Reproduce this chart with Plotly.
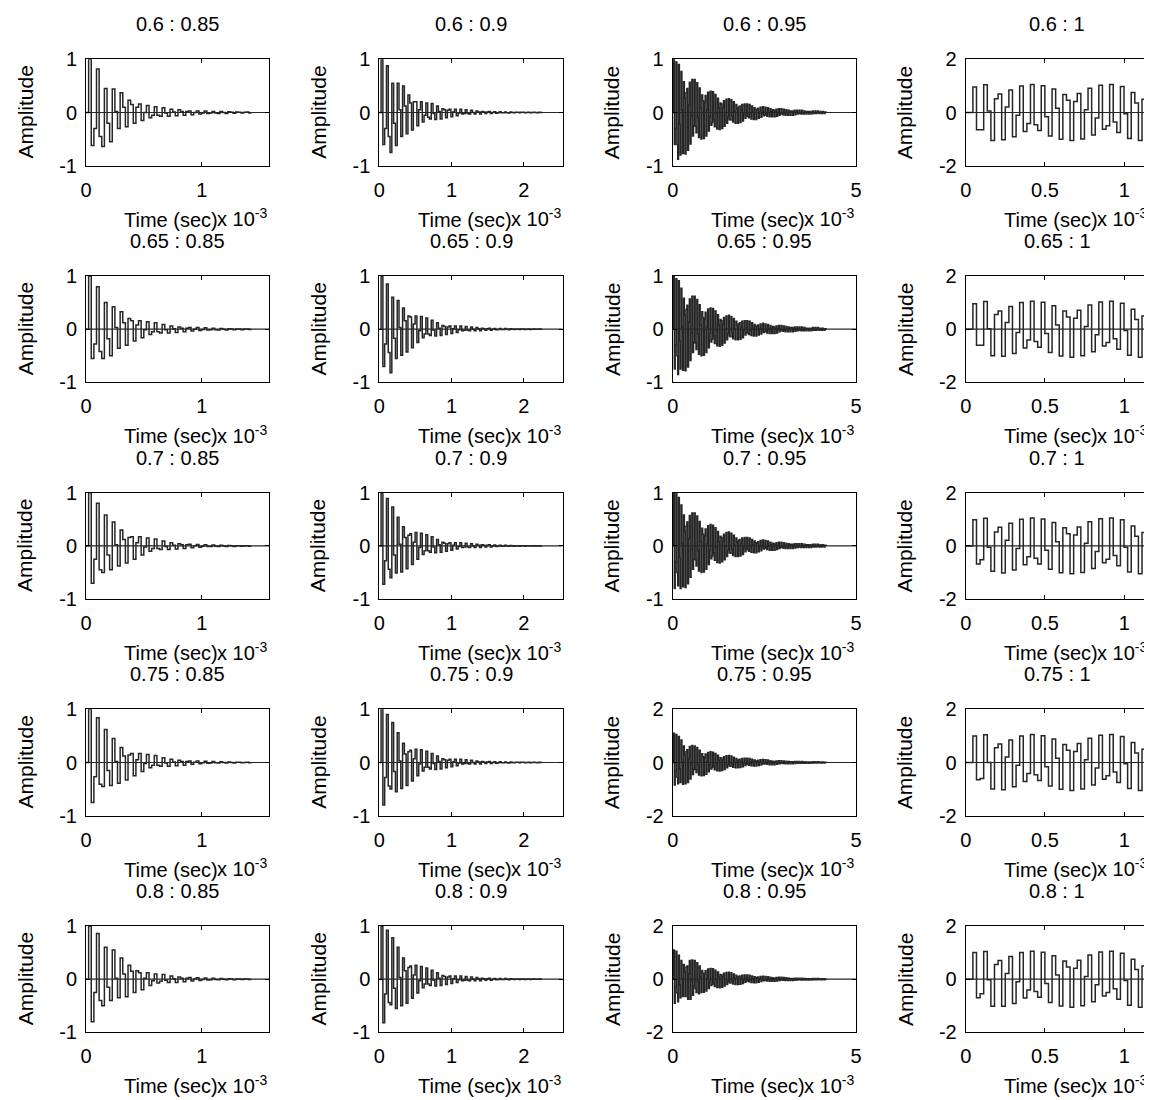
import plotly.graph_objects as go

W, H = 1152, 1100
PAGE_OFFSET = 8.0  # the page body margin shifts the figure by this many pixels

ROW_LABELS = ["0.6", "0.65", "0.7", "0.75", "0.8"]
COL_LABELS = ["0.85", "0.9", "0.95", "1"]

# sample period per column (ms) and x-axis limits (ms, shown as x 10^-3 s)
TS_MS = [0.0227, 0.0248, 0.0227, 0.0227]
XMAX_MS = [1.585, 2.54, 5.0, 1.157]
X_TICKVALS = [[0, 1], [0, 1, 2], [0, 5], [0, 0.5, 1]]
X_TICKTEXT = [["0", "1"], ["0", "1", "2"], ["0", "5"], ["0", "0.5", "1"]]
# y limit per panel [row][col]
Y_LIM = [[1, 1, 1, 2], [1, 1, 1, 2], [1, 1, 1, 2], [1, 1, 2, 2], [1, 1, 2, 2]]

# ---- impulse responses (one sample per step) ----
r1c1 = [0, 1.00, -0.62, -0.30, 0.82, -0.45, -0.64, 0.45, -0.20, -0.55, 0.44, 0.02, -0.30, 0.37, 0.10, -0.27,
        0.23, 0.15, -0.20, 0.10, 0.16, -0.15, 0.00, 0.13, -0.10, -0.05, 0.11, -0.05, -0.07, 0.09, -0.01, -0.07,
        0.06, 0.01, -0.06, 0.05, 0.02, -0.05, 0.02, 0.03, -0.04, 0.00, 0.03, -0.03, -0.01, 0.03, -0.02, -0.01,
        0.02, -0.01, -0.02, 0.02, 0.00, -0.02, 0.015, 0.005, -0.015, 0.01, 0.005, -0.01, 0.005, 0.01, -0.01]
r2c1 = [0, 1.00, -0.55, -0.28, 0.80, -0.42, -0.55, 0.50, -0.18, -0.50, 0.42, 0.03, -0.36, 0.33, 0.12, -0.30,
        0.20, 0.16, -0.22, 0.08, 0.16, -0.16, -0.01, 0.14, -0.10, -0.05, 0.12, -0.05, -0.07, 0.09, -0.01, -0.07,
        0.06, 0.01, -0.06, 0.04, 0.02, -0.05, 0.02, 0.03, -0.035, 0.00, 0.03, -0.025, -0.005, 0.025, -0.015, -0.01,
        0.02, -0.01, -0.015, 0.015, 0.00, -0.015, 0.01, 0.005, -0.01, 0.005, 0.005, -0.01, 0.005, 0.005, -0.005]
r3c1 = [0, 1.00, -0.70, -0.25, 0.80, -0.45, -0.50, 0.58, -0.17, -0.45, 0.45, 0.02, -0.38, 0.30, 0.12, -0.32,
        0.16, 0.17, -0.25, 0.06, 0.17, -0.17, -0.02, 0.15, -0.10, -0.05, 0.13, -0.05, -0.07, 0.09, -0.01, -0.07,
        0.06, 0.01, -0.06, 0.04, 0.02, -0.05, 0.02, 0.03, -0.035, 0.003, 0.028, -0.024, -0.005, 0.023, -0.013, -0.010,
        0.019, -0.006, -0.011, 0.013, -0.001, -0.011, 0.009, 0.002, -0.009, 0.005, 0.004, -0.007, 0.002, 0.005, -0.005]
r4c1 = [0, 1.00, -0.75, -0.27, 0.84, -0.41, -0.45, 0.62, -0.15, -0.43, 0.45, 0.02, -0.39, 0.28, 0.12, -0.33,
        0.14, 0.17, -0.25, 0.05, 0.17, -0.17, -0.02, 0.15, -0.10, -0.05, 0.13, -0.05, -0.07, 0.09, -0.01, -0.07,
        0.06, 0.01, -0.06, 0.04, 0.02, -0.05, 0.02, 0.03, -0.035, 0.003, 0.028, -0.024, -0.005, 0.023, -0.013, -0.010,
        0.019, -0.006, -0.011, 0.013, -0.001, -0.011, 0.009, 0.002, -0.009, 0.005, 0.004, -0.007, 0.002, 0.005, -0.005]
r5c1 = [0, 1.00, -0.80, -0.25, 0.86, -0.40, -0.50, 0.60, -0.15, -0.40, 0.55, 0.02, -0.35, 0.40, 0.10, -0.33,
        0.26, 0.15, -0.25, 0.16, 0.12, -0.20, 0.02, 0.12, -0.12, -0.03, 0.10, -0.07, -0.04, 0.09, -0.02, -0.06,
        0.06, 0.01, -0.06, 0.04, 0.02, -0.05, 0.02, 0.03, -0.035, 0.003, 0.028, -0.024, -0.005, 0.023, -0.013, -0.010,
        0.019, -0.006, -0.011, 0.013, -0.001, -0.011, 0.009, 0.002, -0.009, 0.005, 0.004, -0.007, 0.002, 0.005, -0.005]

r1c2 = [0, 1.00, -0.60, -0.30, 0.88, -0.45, -0.75, 0.55, -0.20, -0.62, 0.55, 0.05, -0.45, 0.50, 0.12, -0.40,
        0.33, 0.18, -0.33, 0.20, 0.20, -0.25, 0.05, 0.20, -0.18, -0.05, 0.18, -0.09, -0.12, 0.17, -0.02, -0.13,
        0.12, 0.02, -0.12, 0.07, 0.05, -0.10, 0.04, 0.06, -0.08, 0.01, 0.06, -0.06, -0.01, 0.06, -0.03, -0.02,
        0.05, -0.02, -0.03, 0.04, 0.00, -0.03, 0.03, 0.01, -0.03, 0.02, 0.01, -0.02, 0.01, 0.02, -0.02, 0.00,
        0.015, -0.012, -0.004, 0.014, -0.007, -0.007, 0.011, -0.003, -0.008, 0.008, 0.00, -0.007, 0.005, 0.003,
        -0.007, 0.003, 0.004, -0.006, 0.001, 0.005, -0.004, -0.002, 0.005, -0.002, -0.003, 0.004, 0.00]
r2c2 = [0, 1.00, -0.70, -0.28, 0.85, -0.44, -0.82, 0.60, -0.17, -0.55, 0.54, 0.03, -0.49, 0.40, 0.16, -0.43,
        0.25, 0.23, -0.35, 0.10, 0.25, -0.25, -0.03, 0.24, -0.16, -0.09, 0.21, -0.09, -0.12, 0.17, -0.02, -0.13,
        0.12, 0.02, -0.12, 0.07, 0.05, -0.10, 0.04, 0.06, -0.08, 0.01, 0.06, -0.06, -0.01, 0.06, -0.03, -0.02,
        0.05, -0.02, -0.03, 0.04, 0.00, -0.03, 0.03, 0.01, -0.03, 0.02, 0.01, -0.02, 0.01, 0.02, -0.02, 0.00,
        0.015, -0.012, -0.004, 0.014, -0.007, -0.007, 0.011, -0.003, -0.008, 0.008, 0.00, -0.007, 0.005, 0.003,
        -0.007, 0.003, 0.004, -0.006, 0.001, 0.005, -0.004, -0.002, 0.005, -0.002, -0.003, 0.004, 0.00]
r3c2 = [0, 1.00, -0.72, -0.28, 0.89, -0.44, -0.60, 0.73, -0.17, -0.51, 0.54, 0.03, -0.49, 0.36, 0.16, -0.43,
        0.20, 0.23, -0.35, 0.07, 0.25, -0.25, -0.03, 0.24, -0.16, -0.09, 0.21, -0.09, -0.12, 0.17, -0.02, -0.13,
        0.12, 0.02, -0.12, 0.07, 0.05, -0.10, 0.04, 0.06, -0.08, 0.01, 0.06, -0.06, -0.01, 0.06, -0.03, -0.02,
        0.05, -0.02, -0.03, 0.04, 0.00, -0.03, 0.03, 0.01, -0.03, 0.02, 0.01, -0.02, 0.01, 0.02, -0.02, 0.00,
        0.015, -0.012, -0.004, 0.014, -0.007, -0.007, 0.011, -0.003, -0.008, 0.008, 0.00, -0.007, 0.005, 0.003,
        -0.007, 0.003, 0.004, -0.006, 0.001, 0.005, -0.004, -0.002, 0.005, -0.002, -0.003, 0.004, 0.00]
r4c2 = [0, 1.00, -0.80, -0.28, 0.90, -0.44, -0.50, 0.75, -0.17, -0.55, 0.56, 0.03, -0.49, 0.36, 0.16, -0.43,
        0.20, 0.23, -0.35, 0.07, 0.25, -0.25, -0.03, 0.24, -0.16, -0.09, 0.21, -0.09, -0.12, 0.17, -0.02, -0.13,
        0.12, 0.02, -0.12, 0.07, 0.05, -0.10, 0.04, 0.06, -0.08, 0.01, 0.06, -0.06, -0.01, 0.06, -0.03, -0.02,
        0.05, -0.02, -0.03, 0.04, 0.00, -0.03, 0.03, 0.01, -0.03, 0.02, 0.01, -0.02, 0.01, 0.02, -0.02, 0.00,
        0.015, -0.012, -0.004, 0.014, -0.007, -0.007, 0.011, -0.003, -0.008, 0.008, 0.00, -0.007, 0.005, 0.003,
        -0.007, 0.003, 0.004, -0.006, 0.001, 0.005, -0.004, -0.002, 0.005, -0.002, -0.003, 0.004, 0.00]
r5c2 = [0, 1.00, -0.82, -0.28, 0.92, -0.44, -0.48, 0.78, -0.17, -0.55, 0.60, 0.03, -0.50, 0.40, 0.16, -0.45,
        0.22, 0.25, -0.36, 0.08, 0.26, -0.26, -0.03, 0.24, -0.16, -0.09, 0.21, -0.09, -0.12, 0.17, -0.02, -0.13,
        0.12, 0.02, -0.12, 0.07, 0.05, -0.10, 0.04, 0.06, -0.08, 0.01, 0.06, -0.06, -0.01, 0.06, -0.03, -0.02,
        0.05, -0.02, -0.03, 0.04, 0.00, -0.03, 0.03, 0.01, -0.03, 0.02, 0.01, -0.02, 0.01, 0.02, -0.02, 0.00,
        0.015, -0.012, -0.004, 0.014, -0.007, -0.007, 0.011, -0.003, -0.008, 0.008, 0.00, -0.007, 0.005, 0.003,
        -0.007, 0.003, 0.004, -0.006, 0.001, 0.005, -0.004, -0.002, 0.005, -0.002, -0.003, 0.004, 0.00]

r1c3 = [0, 1.00, -0.60, -0.30, 0.95, -0.60, -0.88, 0.90, -0.22, -0.80, 0.77, 0.04, -0.77, 0.58, 0.27, -0.78,
        0.37, 0.45, -0.71, 0.14, 0.57, -0.59, -0.07, 0.62, -0.44, -0.25, 0.62, -0.26, -0.38, 0.56, -0.09, -0.47,
        0.46, 0.08, -0.50, 0.33, 0.22, -0.49, 0.19, 0.32, -0.44, 0.04, 0.38, -0.35, -0.08, 0.40, -0.24, -0.19,
        0.39, -0.13, -0.27, 0.34, -0.02, -0.31, 0.27, 0.08, -0.32, 0.18, 0.16, -0.30, 0.09, 0.22, -0.26, 0.00,
        0.25, -0.20, -0.08, 0.26, -0.13, -0.14, 0.24, -0.06, -0.18, 0.20, 0.01, -0.20, 0.15, 0.07, -0.20, 0.10,
        0.12, -0.19, 0.04, 0.15, -0.16, -0.02, 0.16, -0.11, -0.06, 0.16, -0.07, -0.10, 0.15, -0.02, -0.12, 0.12,
        0.02, -0.13, 0.09, 0.06, -0.13, 0.05, 0.08, -0.11, 0.01, 0.10, -0.09, -0.02, 0.11, -0.06, -0.05, 0.10,
        -0.03, -0.07, 0.09, 0.00, -0.08, 0.07, 0.02, -0.08, 0.05, 0.04, -0.08, 0.02, 0.06, -0.07, 0.00, 0.07,
        -0.05, -0.02, 0.07, -0.03, -0.04, 0.06, -0.02, -0.05, 0.05, 0.00, -0.05, 0.04, 0.02, -0.05, 0.03, 0.03,
        -0.05, 0.01, 0.04, -0.04, 0.00, 0.04, -0.03, -0.02, 0.04, -0.02, -0.03, 0.04, -0.01, -0.03, 0.03, 0.01,
        -0.03, 0.02, 0.02, -0.03, 0.01, 0.02, -0.03, 0.00, 0.03, -0.02, -0.01, 0.03, -0.02, -0.01, 0.03, -0.01,
        -0.02, 0.02, 0.00, -0.02, 0.02, 0.01, -0.02, 0.01, 0.01]
r2c3 = [0, 1.00, -0.75, -0.30, 0.95, -0.50, -0.85, 0.91, -0.22, -0.75, 0.77, 0.04, -0.77, 0.58, 0.27, -0.78,
        0.37, 0.45, -0.71, 0.14, 0.57, -0.59, -0.07, 0.62, -0.44, -0.25, 0.62, -0.26, -0.38, 0.56, -0.09, -0.47,
        0.46, 0.08, -0.50, 0.33, 0.22, -0.49, 0.19, 0.32, -0.44, 0.04, 0.38, -0.35, -0.08, 0.40, -0.24, -0.19,
        0.39, -0.13, -0.27, 0.34, -0.02, -0.31, 0.27, 0.08, -0.32, 0.18, 0.16, -0.30, 0.09, 0.22, -0.26, 0.00,
        0.25, -0.20, -0.08, 0.26, -0.13, -0.14, 0.24, -0.06, -0.18, 0.20, 0.01, -0.20, 0.15, 0.07, -0.20, 0.10,
        0.12, -0.19, 0.04, 0.15, -0.16, -0.02, 0.16, -0.11, -0.06, 0.16, -0.07, -0.10, 0.15, -0.02, -0.12, 0.12,
        0.02, -0.13, 0.09, 0.06, -0.13, 0.05, 0.08, -0.11, 0.01, 0.10, -0.09, -0.02, 0.11, -0.06, -0.05, 0.10,
        -0.03, -0.07, 0.09, 0.00, -0.08, 0.07, 0.02, -0.08, 0.05, 0.04, -0.08, 0.02, 0.06, -0.07, 0.00, 0.07,
        -0.05, -0.02, 0.07, -0.03, -0.04, 0.06, -0.02, -0.05, 0.05, 0.00, -0.05, 0.04, 0.02, -0.05, 0.03, 0.03,
        -0.05, 0.01, 0.04, -0.04, 0.00, 0.04, -0.03, -0.02, 0.04, -0.02, -0.03, 0.04, -0.01, -0.03, 0.03, 0.01,
        -0.03, 0.02, 0.02, -0.03, 0.01, 0.02, -0.03, 0.00, 0.03, -0.02, -0.01, 0.03, -0.02, -0.01, 0.03, -0.01,
        -0.02, 0.02, 0.00, -0.02, 0.02, 0.01, -0.02, 0.01, 0.01]
r3c3 = [0, 1.00, -0.80, -0.30, 0.98, -0.50, -0.75, 0.91, -0.22, -0.80, 0.77, 0.04, -0.77, 0.58, 0.27, -0.78,
        0.37, 0.45, -0.71, 0.14, 0.57, -0.59, -0.07, 0.62, -0.44, -0.25, 0.62, -0.26, -0.38, 0.56, -0.09, -0.47,
        0.46, 0.08, -0.50, 0.33, 0.22, -0.49, 0.19, 0.32, -0.44, 0.04, 0.38, -0.35, -0.08, 0.40, -0.24, -0.19,
        0.39, -0.13, -0.27, 0.34, -0.02, -0.31, 0.27, 0.08, -0.32, 0.18, 0.16, -0.30, 0.09, 0.22, -0.26, 0.00,
        0.25, -0.20, -0.08, 0.26, -0.13, -0.14, 0.24, -0.06, -0.18, 0.20, 0.01, -0.20, 0.15, 0.07, -0.20, 0.10,
        0.12, -0.19, 0.04, 0.15, -0.16, -0.02, 0.16, -0.11, -0.06, 0.16, -0.07, -0.10, 0.15, -0.02, -0.12, 0.12,
        0.02, -0.13, 0.09, 0.06, -0.13, 0.05, 0.08, -0.11, 0.01, 0.10, -0.09, -0.02, 0.11, -0.06, -0.05, 0.10,
        -0.03, -0.07, 0.09, 0.00, -0.08, 0.07, 0.02, -0.08, 0.05, 0.04, -0.08, 0.02, 0.06, -0.07, 0.00, 0.07,
        -0.05, -0.02, 0.07, -0.03, -0.04, 0.06, -0.02, -0.05, 0.05, 0.00, -0.05, 0.04, 0.02, -0.05, 0.03, 0.03,
        -0.05, 0.01, 0.04, -0.04, 0.00, 0.04, -0.03, -0.02, 0.04, -0.02, -0.03, 0.04, -0.01, -0.03, 0.03, 0.01,
        -0.03, 0.02, 0.02, -0.03, 0.01, 0.02, -0.03, 0.00, 0.03, -0.02, -0.01, 0.03, -0.02, -0.01, 0.03, -0.01,
        -0.02, 0.02, 0.00, -0.02, 0.02, 0.01, -0.02, 0.01, 0.01]
r4c3 = [0, 1.10, -0.85, -0.33, 1.05, -0.55, -0.80, 0.98, -0.24, -0.75, 0.85, 0.04, -0.82, 0.62, 0.29, -0.80,
        0.40, 0.48, -0.75, 0.15, 0.60, -0.62, -0.07, 0.64, -0.45, -0.25, 0.62, -0.26, -0.38, 0.56, -0.09, -0.47,
        0.46, 0.08, -0.50, 0.33, 0.22, -0.49, 0.19, 0.32, -0.44, 0.04, 0.38, -0.35, -0.08, 0.40, -0.24, -0.19,
        0.39, -0.13, -0.27, 0.34, -0.02, -0.31, 0.27, 0.08, -0.32, 0.18, 0.16, -0.30, 0.09, 0.22, -0.26, 0.00,
        0.25, -0.20, -0.08, 0.26, -0.13, -0.14, 0.24, -0.06, -0.18, 0.20, 0.01, -0.20, 0.15, 0.07, -0.20, 0.10,
        0.12, -0.19, 0.04, 0.15, -0.16, -0.02, 0.16, -0.11, -0.06, 0.16, -0.07, -0.10, 0.15, -0.02, -0.12, 0.12,
        0.02, -0.13, 0.09, 0.06, -0.13, 0.05, 0.08, -0.11, 0.01, 0.10, -0.09, -0.02, 0.11, -0.06, -0.05, 0.10,
        -0.03, -0.07, 0.09, 0.00, -0.08, 0.07, 0.02, -0.08, 0.05, 0.04, -0.08, 0.02, 0.06, -0.07, 0.00, 0.07,
        -0.05, -0.02, 0.07, -0.03, -0.04, 0.06, -0.02, -0.05, 0.05, 0.00, -0.05, 0.04, 0.02, -0.05, 0.03, 0.03,
        -0.05, 0.01, 0.04, -0.04, 0.00, 0.04, -0.03, -0.02, 0.04, -0.02, -0.03, 0.04, -0.01, -0.03, 0.03, 0.01,
        -0.03, 0.02, 0.02, -0.03, 0.01, 0.02, -0.03, 0.00, 0.03, -0.02, -0.01, 0.03, -0.02, -0.01, 0.03, -0.01,
        -0.02, 0.02, 0.00, -0.02, 0.02, 0.01, -0.02, 0.01, 0.01]
r5c3 = [0, 1.10, -0.90, -0.30, 1.05, -0.52, -0.85, 0.90, -0.22, -0.70, 0.70, 0.04, -0.65, 0.55, 0.27, -0.65,
        0.45, 0.50, -0.75, 0.20, 0.70, -0.75, -0.07, 0.72, -0.60, -0.25, 0.70, -0.35, -0.50, 0.62, -0.09, -0.55,
        0.50, 0.08, -0.50, 0.33, 0.22, -0.49, 0.19, 0.32, -0.44, 0.04, 0.38, -0.35, -0.08, 0.40, -0.24, -0.19,
        0.39, -0.13, -0.27, 0.34, -0.02, -0.31, 0.27, 0.08, -0.32, 0.18, 0.16, -0.30, 0.09, 0.22, -0.26, 0.00,
        0.25, -0.20, -0.08, 0.26, -0.13, -0.14, 0.24, -0.06, -0.18, 0.20, 0.01, -0.20, 0.15, 0.07, -0.20, 0.10,
        0.12, -0.19, 0.04, 0.15, -0.16, -0.02, 0.16, -0.11, -0.06, 0.16, -0.07, -0.10, 0.15, -0.02, -0.12, 0.12,
        0.02, -0.13, 0.09, 0.06, -0.13, 0.05, 0.08, -0.11, 0.01, 0.10, -0.09, -0.02, 0.11, -0.06, -0.05, 0.10,
        -0.03, -0.07, 0.09, 0.00, -0.08, 0.07, 0.02, -0.08, 0.05, 0.04, -0.08, 0.02, 0.06, -0.07, 0.00, 0.07,
        -0.05, -0.02, 0.07, -0.03, -0.04, 0.06, -0.02, -0.05, 0.05, 0.00, -0.05, 0.04, 0.02, -0.05, 0.03, 0.03,
        -0.05, 0.01, 0.04, -0.04, 0.00, 0.04, -0.03, -0.02, 0.04, -0.02, -0.03, 0.04, -0.01, -0.03, 0.03, 0.01,
        -0.03, 0.02, 0.02, -0.03, 0.01, 0.02, -0.03, 0.00, 0.03, -0.02, -0.01, 0.03, -0.02, -0.01, 0.03, -0.01,
        -0.02, 0.02, 0.00, -0.02, 0.02, 0.01, -0.02, 0.01, 0.01]

r1c4 = [0, 0, 0.96, -0.65, -0.65, 1.04, 0.06, -1.05, 0.52, 0.70, -1.02, 0.21, 0.85, -0.91, -0.10, 1.00, -0.71,
        -0.41, 1.05, -0.46, -0.68, 1.01, -0.16, -0.88, 0.88, 0.16, -1.01, 0.68, 0.46, -1.05, 0.41, 0.71, -1.00,
        0.10, 0.91, -0.85, -0.21, 1.02, -0.63, -0.50, 1.05, -0.36, -0.75, 0.98, -0.05, -0.98, 0.75, 0.36, -1.05,
        0.50, 0.63, -1.02, 0.21]
r2c4 = [0, 0, 0.96, -0.60, -0.60, 1.04, 0.02, -1.00, 0.55, 0.68, -1.02, 0.25, 0.85, -0.91, -0.12, 1.00, -0.71,
        -0.41, 1.05, -0.46, -0.68, 1.01, -0.16, -0.88, 0.88, 0.16, -1.01, 0.68, 0.46, -1.05, 0.41, 0.71, -1.00,
        0.10, 0.91, -0.85, -0.21, 1.02, -0.63, -0.50, 1.05, -0.36, -0.75, 0.98, -0.05, -0.98, 0.75, 0.36, -1.05,
        0.50, 0.63, -1.02, 0.21]
r3c4 = [0, 0, 0.98, -0.68, -0.52, 1.04, -0.05, -0.95, 0.52, 0.70, -1.02, 0.21, 0.85, -0.91, -0.10, 1.00, -0.71,
        -0.41, 1.05, -0.46, -0.68, 1.01, -0.16, -0.88, 0.88, 0.16, -1.01, 0.68, 0.46, -1.05, 0.41, 0.71, -1.00,
        0.10, 0.91, -0.85, -0.21, 1.02, -0.63, -0.50, 1.05, -0.36, -0.75, 0.98, -0.05, -0.98, 0.75, 0.36, -1.05,
        0.50, 0.63, -1.02, 0.21]
r4c4 = [0, 0, 1.00, -0.65, -0.60, 1.04, 0.00, -1.00, 0.55, 0.70, -1.02, 0.21, 0.85, -0.91, -0.10, 1.00, -0.71,
        -0.41, 1.05, -0.46, -0.68, 1.01, -0.16, -0.88, 0.88, 0.16, -1.01, 0.68, 0.46, -1.05, 0.41, 0.71, -1.00,
        0.10, 0.91, -0.85, -0.21, 1.02, -0.63, -0.50, 1.05, -0.36, -0.75, 0.98, -0.05, -0.98, 0.75, 0.36, -1.05,
        0.50, 0.63, -1.02, 0.21]
r5c4 = [0, 0, 1.00, -0.70, -0.55, 1.04, -0.02, -1.02, 0.55, 0.70, -1.02, 0.21, 0.85, -0.91, -0.10, 1.00, -0.71,
        -0.41, 1.05, -0.46, -0.68, 1.01, -0.16, -0.88, 0.88, 0.16, -1.01, 0.68, 0.46, -1.05, 0.41, 0.71, -1.00,
        0.10, 0.91, -0.85, -0.21, 1.02, -0.63, -0.50, 1.05, -0.36, -0.75, 0.98, -0.05, -0.98, 0.75, 0.36, -1.05,
        0.50, 0.63, -1.02, 0.21]

RESPONSES = [
    [r1c1, r1c2, r1c3, r1c4],
    [r2c1, r2c2, r2c3, r2c4],
    [r3c1, r3c2, r3c3, r3c4],
    [r4c1, r4c2, r4c3, r4c4],
    [r5c1, r5c2, r5c3, r5c4],
]

# ---- layout geometry (page pixels of the reference) ----
COL_LEFT = [86.0, 379.3, 672.7, 965.7]
PW = 183.4
ROW_TOP = [59.3, 276.0, 492.7, 709.3, 926.0]
PH = 106.4

FONT = "Liberation Sans, Arial, Helvetica, sans-serif"
FS = 20
LINE_COLOR = "#262626"

fig = go.Figure()
annotations = []
layout_axes = {}


def px_x(p):
    return (p - PAGE_OFFSET) / W


def px_y(p):
    return 1 - (p - PAGE_OFFSET) / H


k = 0
for r in range(5):
    for c in range(4):
        k += 1
        xa = "x" if k == 1 else f"x{k}"
        ya = "y" if k == 1 else f"y{k}"
        h = RESPONSES[r][c]
        ts = TS_MS[c]
        xs = [i * ts for i in range(len(h))] + [len(h) * ts]
        ys = list(h) + [h[-1]]
        xmax = XMAX_MS[c]
        lim = Y_LIM[r][c]
        fig.add_trace(go.Scatter(x=[0, xmax], y=[0, 0], mode="lines",
                                 line=dict(color=LINE_COLOR, width=1.2),
                                 xaxis=xa, yaxis=ya, hoverinfo="skip", showlegend=False))
        fig.add_trace(go.Scatter(x=xs, y=ys, mode="lines", line_shape="hv",
                                 line=dict(color=LINE_COLOR, width=1.5),
                                 xaxis=xa, yaxis=ya, showlegend=False))
        L = COL_LEFT[c]
        T = ROW_TOP[r]
        common = dict(showgrid=False, zeroline=False, showline=True, linecolor="black",
                      linewidth=1, mirror="ticks", ticks="inside", ticklen=4, automargin=False,
                      tickcolor="black", tickfont=dict(family=FONT, size=FS, color="black"))
        layout_axes["xaxis" if k == 1 else f"xaxis{k}"] = dict(
            domain=[px_x(L), px_x(L + PW)], range=[0, xmax], anchor=ya,
            tickvals=X_TICKVALS[c], ticktext=X_TICKTEXT[c], ticklabelstandoff=6, **common)
        layout_axes["yaxis" if k == 1 else f"yaxis{k}"] = dict(
            domain=[px_y(T + PH), px_y(T)], range=[-lim, lim], anchor=xa,
            tickvals=[-lim, 0, lim], ticktext=[str(-lim), "0", str(lim)], ticklabelstandoff=4, **common)

        cx = L + PW / 2
        annotations.append(dict(text=f"{ROW_LABELS[r]} : {COL_LABELS[c]}", x=px_x(cx), y=px_y(T - 35),
                                xref="paper", yref="paper", showarrow=False, xanchor="center",
                                yanchor="middle", font=dict(family=FONT, size=FS, color="black")))
        annotations.append(dict(text="Time (sec)", x=px_x(cx - 6.5), y=px_y(T + PH + 54),
                                xref="paper", yref="paper", showarrow=False, xanchor="center",
                                yanchor="middle", font=dict(family=FONT, size=FS, color="black")))
        annotations.append(dict(text="x 10<sup>-3</sup>", x=px_x(L + PW), y=px_y(T + PH + 52),
                                xref="paper", yref="paper", showarrow=False, xanchor="right",
                                yanchor="middle", font=dict(family=FONT, size=FS, color="black")))
        annotations.append(dict(text="Amplitude", x=px_x(L - 61), y=px_y(T + PH / 2),
                                xref="paper", yref="paper", showarrow=False, xanchor="center",
                                yanchor="middle", textangle=-90,
                                font=dict(family=FONT, size=FS + 1, color="black")))

fig.update_layout(width=W, height=H, margin=dict(l=0, r=0, t=0, b=0, pad=0, autoexpand=False),
                  paper_bgcolor="white", plot_bgcolor="white",
                  annotations=annotations, showlegend=False, **layout_axes)

fig.write_html("out.html")
